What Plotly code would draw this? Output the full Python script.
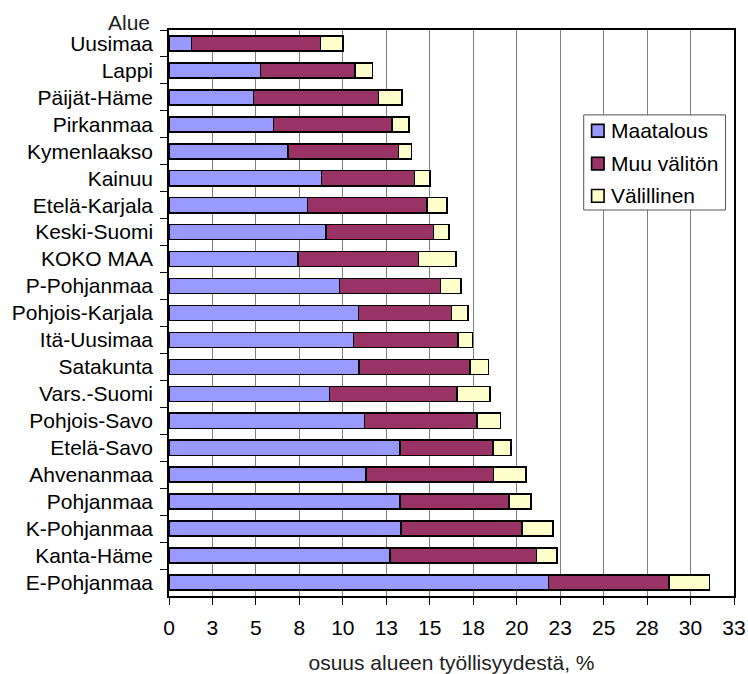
import plotly.graph_objects as go

regions = ["Uusimaa", "Lappi", "Päijät-Häme", "Pirkanmaa", "Kymenlaakso", "Kainuu",
           "Etelä-Karjala", "Keski-Suomi", "KOKO MAA", "P-Pohjanmaa", "Pohjois-Karjala",
           "Itä-Uusimaa", "Satakunta", "Vars.-Suomi", "Pohjois-Savo", "Etelä-Savo",
           "Ahvenanmaa", "Pohjanmaa", "K-Pohjanmaa", "Kanta-Häme", "E-Pohjanmaa"]

maatalous = [1.29, 5.26, 4.85, 6.00, 6.86, 8.78, 7.97, 9.03, 7.42, 9.81, 10.90,
             10.61, 10.94, 9.24, 11.25, 13.30, 11.34, 13.30, 13.34, 12.72, 21.84]
muu_valiton = [7.43, 5.45, 7.20, 6.82, 6.34, 5.34, 6.86, 6.18, 6.93, 5.80, 5.34,
               6.00, 6.39, 7.33, 6.45, 5.32, 7.32, 6.26, 6.95, 8.43, 6.93]
valillinen = [1.30, 1.00, 1.34, 0.99, 0.75, 0.90, 1.15, 0.88, 2.15, 1.19, 0.96,
              0.84, 1.04, 1.88, 1.36, 1.04, 1.87, 1.26, 1.81, 1.18, 2.33]

series_names = ["Maatalous", "Muu välitön", "Välillinen"]
series_colors = ["#9999FF", "#993366", "#FFFFCC"]

x_tick_labels = ["0", "3", "5", "8", "10", "13", "15", "18", "20", "23", "25", "28", "30", "33"]
x_tick_vals = [i * 2.5 for i in range(len(x_tick_labels))]

FONT = "Liberation Sans, Arial, sans-serif"
FS = 21

fig = go.Figure()
for name, vals, col in zip(series_names, [maatalous, muu_valiton, valillinen], series_colors):
    fig.add_trace(go.Bar(
        y=regions, x=vals, name=name, orientation="h", showlegend=False,
        marker=dict(color=col, line=dict(color="black", width=1.6)),
    ))

# manual legend (box, squares, labels) in paper coordinates
shapes = [dict(type="rect", xref="paper", yref="paper", x0=0.734, x1=0.985, y0=0.682, y1=0.850,
               line=dict(color="#555", width=1), fillcolor="white", layer="above")]
annotations = [dict(text="Alue", xref="paper", yref="paper", x=-0.0297, y=1.013,
                    xanchor="right", yanchor="middle", showarrow=False,
                    font=dict(size=FS, color="#222"))]
row_y = [0.822, 0.764, 0.707]
sq_h = 0.0224
for name, col, yc in zip(series_names, series_colors, row_y):
    shapes.append(dict(type="rect", xref="paper", yref="paper", x0=0.748, x1=0.770,
                       y0=yc - sq_h / 2, y1=yc + sq_h / 2,
                       line=dict(color="black", width=1.6), fillcolor=col, layer="above"))
    annotations.append(dict(text=name, xref="paper", yref="paper", x=0.778, y=yc,
                            xanchor="left", yanchor="middle", showarrow=False,
                            font=dict(size=FS, color="black")))

fig.update_layout(
    width=748, height=674,
    barmode="stack", bargap=0.44,
    plot_bgcolor="white", paper_bgcolor="white",
    margin=dict(l=168.5, r=13.7, t=30, b=78.3),
    font=dict(family=FONT, size=FS, color="black"),
    showlegend=False,
    xaxis=dict(range=[0, 32.5], tickvals=x_tick_vals, ticktext=x_tick_labels,
               showgrid=True, gridcolor="#808080", gridwidth=1,
               showline=True, linecolor="black", linewidth=1.5, mirror=True,
               ticks="outside", ticklen=7, tickcolor="black",
               ticklabelstandoff=5,
               title=dict(text="osuus alueen työllisyydestä, %", standoff=29,
                          font=dict(size=FS, color="#222")),
               zeroline=False, automargin=False),
    yaxis=dict(autorange="reversed", showgrid=False,
               showline=True, linecolor="black", linewidth=1.5, mirror=True,
               ticks="outside", ticklen=7, tickcolor="black", tickson="boundaries",
               ticklabelstandoff=10, automargin=False),
    shapes=shapes,
    annotations=annotations,
)

fig.write_html("out.html", config={"displayModeBar": False},
               post_script="document.body.style.margin='0';")
